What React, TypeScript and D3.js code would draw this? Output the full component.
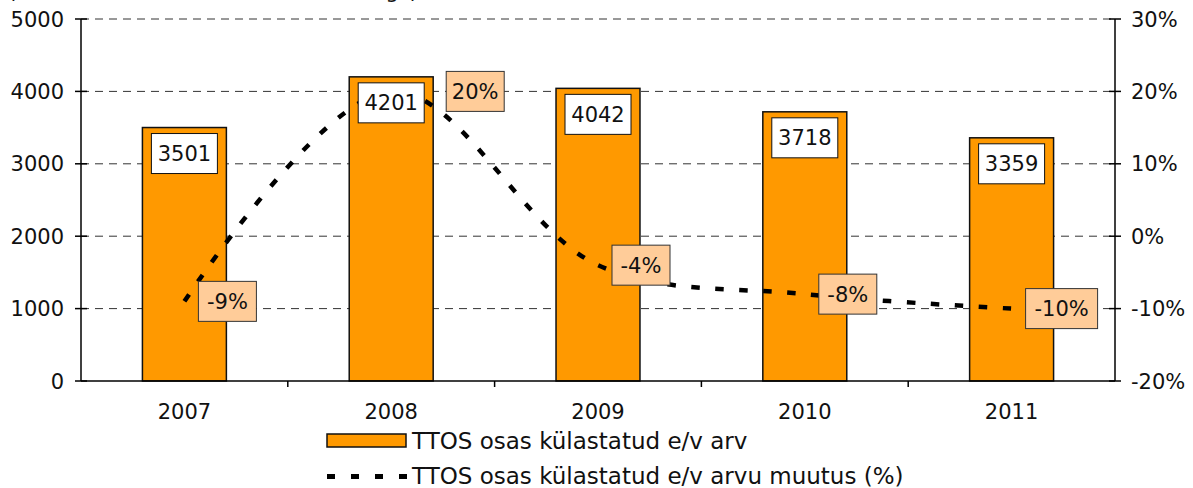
import React from 'react';
import * as d3 from 'd3';

const width = 1193;
const height = 488;
const plotLeft = 81;
const plotRight = 1115;
const plotTop = 19;
const plotBottom = 381;
const fontFamily = '"DejaVu Sans", Verdana, sans-serif';
const fontSize = 21;
const legendFontSize = 23;

const years = ['2007', '2008', '2009', '2010', '2011'];
const visitors = [3501, 4201, 4042, 3718, 3359];
const change = [-0.09, 0.2, -0.04, -0.08, -0.1];
const changeLabels = ['-9%', '20%', '-4%', '-8%', '-10%'];
// extra horizontal nudge for the % labels (2008 label moved past the value box)
const labelNudge = [0, 41, 0, 0, 0];

const leftTicks = [0, 1000, 2000, 3000, 4000, 5000];
const rightTicks = [-0.2, -0.1, 0, 0.1, 0.2, 0.3];

const barColor = '#FF9900';
const pctBoxColor = '#FFCC99';

const xCat = d3.scaleBand<string>().domain(years).range([plotLeft, plotRight]);
const yLeft = d3.scaleLinear().domain([0, 5000]).range([plotBottom, plotTop]);
const yRight = d3.scaleLinear().domain([-0.2, 0.3]).range([plotBottom, plotTop]);
const pctFmt = (v: number) => d3.format('.0%')(v).replace('\u2212', '-');

const barWidth = xCat.bandwidth() * 0.406;
const cx = (y: string) => (xCat(y) as number) + xCat.bandwidth() / 2;

const changeLine = d3
  .line<number>()
  .x((_, i) => cx(years[i]))
  .y((d) => yRight(d))
  .curve(d3.curveCatmullRom.alpha(0.5));

const App = () => (
  <svg
    width={width}
    height={height}
    style={{ position: 'absolute', left: 0, top: 0, background: '#fff' }}
    fontFamily={fontFamily}
    fontSize={fontSize}
  >
    {/* title cut off at the top edge, as in the original */}
    <text x={8} y={-2} textLength={410} lengthAdjust="spacing" fill="#111">
      (ettevõtete arvu muutus eelmise aastaga)
    </text>

    {/* gridlines */}
    {leftTicks.filter((t) => t > 0).map((t) => (
      <line
        key={'g' + t}
        x1={plotLeft}
        x2={plotRight}
        y1={yLeft(t)}
        y2={yLeft(t)}
        stroke="#333"
        strokeWidth={1}
        strokeDasharray="8,6"
      />
    ))}

    {/* bars */}
    {years.map((y, i) => (
      <rect
        key={'b' + y}
        x={cx(y) - barWidth / 2}
        y={yLeft(visitors[i])}
        width={barWidth}
        height={plotBottom - yLeft(visitors[i])}
        fill={barColor}
        stroke="#111"
        strokeWidth={1.5}
      />
    ))}

    {/* axes */}
    <line x1={plotLeft} x2={plotLeft} y1={plotTop} y2={plotBottom} stroke="#000" strokeWidth={1.5} />
    <line x1={plotRight} x2={plotRight} y1={plotTop} y2={plotBottom} stroke="#000" strokeWidth={1.5} />
    <line x1={plotLeft} x2={plotRight} y1={plotBottom} y2={plotBottom} stroke="#000" strokeWidth={1.5} />

    {leftTicks.map((t) => (
      <g key={'l' + t}>
        <line x1={plotLeft - 6} x2={plotLeft + 6} y1={yLeft(t)} y2={yLeft(t)} stroke="#000" strokeWidth={1.5} />
        <text x={plotLeft - 17} y={yLeft(t)} dy="0.36em" textAnchor="end" fill="#111">
          {t}
        </text>
      </g>
    ))}
    {rightTicks.map((t) => (
      <g key={'r' + t}>
        <line x1={plotRight - 6} x2={plotRight + 6} y1={yRight(t)} y2={yRight(t)} stroke="#000" strokeWidth={1.5} />
        <text x={plotRight + 16} y={yRight(t)} dy="0.36em" textAnchor="start" fill="#111">
          {pctFmt(t)}
        </text>
      </g>
    ))}
    {years.slice(1).map((y) => (
      <line
        key={'xt' + y}
        x1={xCat(y)}
        x2={xCat(y)}
        y1={plotBottom}
        y2={plotBottom + 6}
        stroke="#000"
        strokeWidth={1.5}
      />
    ))}
    {years.map((y) => (
      <text key={'xl' + y} x={cx(y)} y={419} textAnchor="middle" fill="#111">
        {y}
      </text>
    ))}

    {/* change line */}
    <path
      d={changeLine(change) || ''}
      fill="none"
      stroke="#000"
      strokeWidth={4.5}
      strokeDasharray="8.5,15.5"
    />

    {/* value labels */}
    {years.map((y, i) => (
      <g key={'v' + y}>
        <rect
          x={cx(y) - 33}
          y={yLeft(visitors[i]) + 6}
          width={66}
          height={40}
          fill="#fff"
          stroke="#111"
          strokeWidth={1}
        />
        <text x={cx(y)} y={yLeft(visitors[i]) + 26} dy="0.36em" textAnchor="middle" fill="#111">
          {visitors[i]}
        </text>
      </g>
    ))}

    {/* change labels */}
    {years.map((y, i) => {
      const w = changeLabels[i].length * 14 + 16;
      const left = cx(y) + 14 + labelNudge[i];
      const mid = yRight(change[i]);
      return (
        <g key={'p' + y}>
          <rect x={left} y={mid - 20} width={w} height={40} fill={pctBoxColor} stroke="#333" strokeWidth={1} />
          <text x={left + w / 2} y={mid} dy="0.36em" textAnchor="middle" fill="#111">
            {changeLabels[i]}
          </text>
        </g>
      );
    })}

    {/* legend */}
    <g fontSize={legendFontSize}>
      <rect x={327} y={434} width={79} height={13} fill={barColor} stroke="#111" strokeWidth={1.5} />
      <text x={412} y={441} dy="0.36em" fill="#111">
        TTOS osas külastatud e/v arv
      </text>
      <line x1={327} x2={407} y1={476.5} y2={476.5} stroke="#000" strokeWidth={5} strokeDasharray="8,16" />
      <text x={412} y={476} dy="0.36em" fill="#111">
        TTOS osas külastatud e/v arvu muutus (%)
      </text>
    </g>
  </svg>
);

export default App;
